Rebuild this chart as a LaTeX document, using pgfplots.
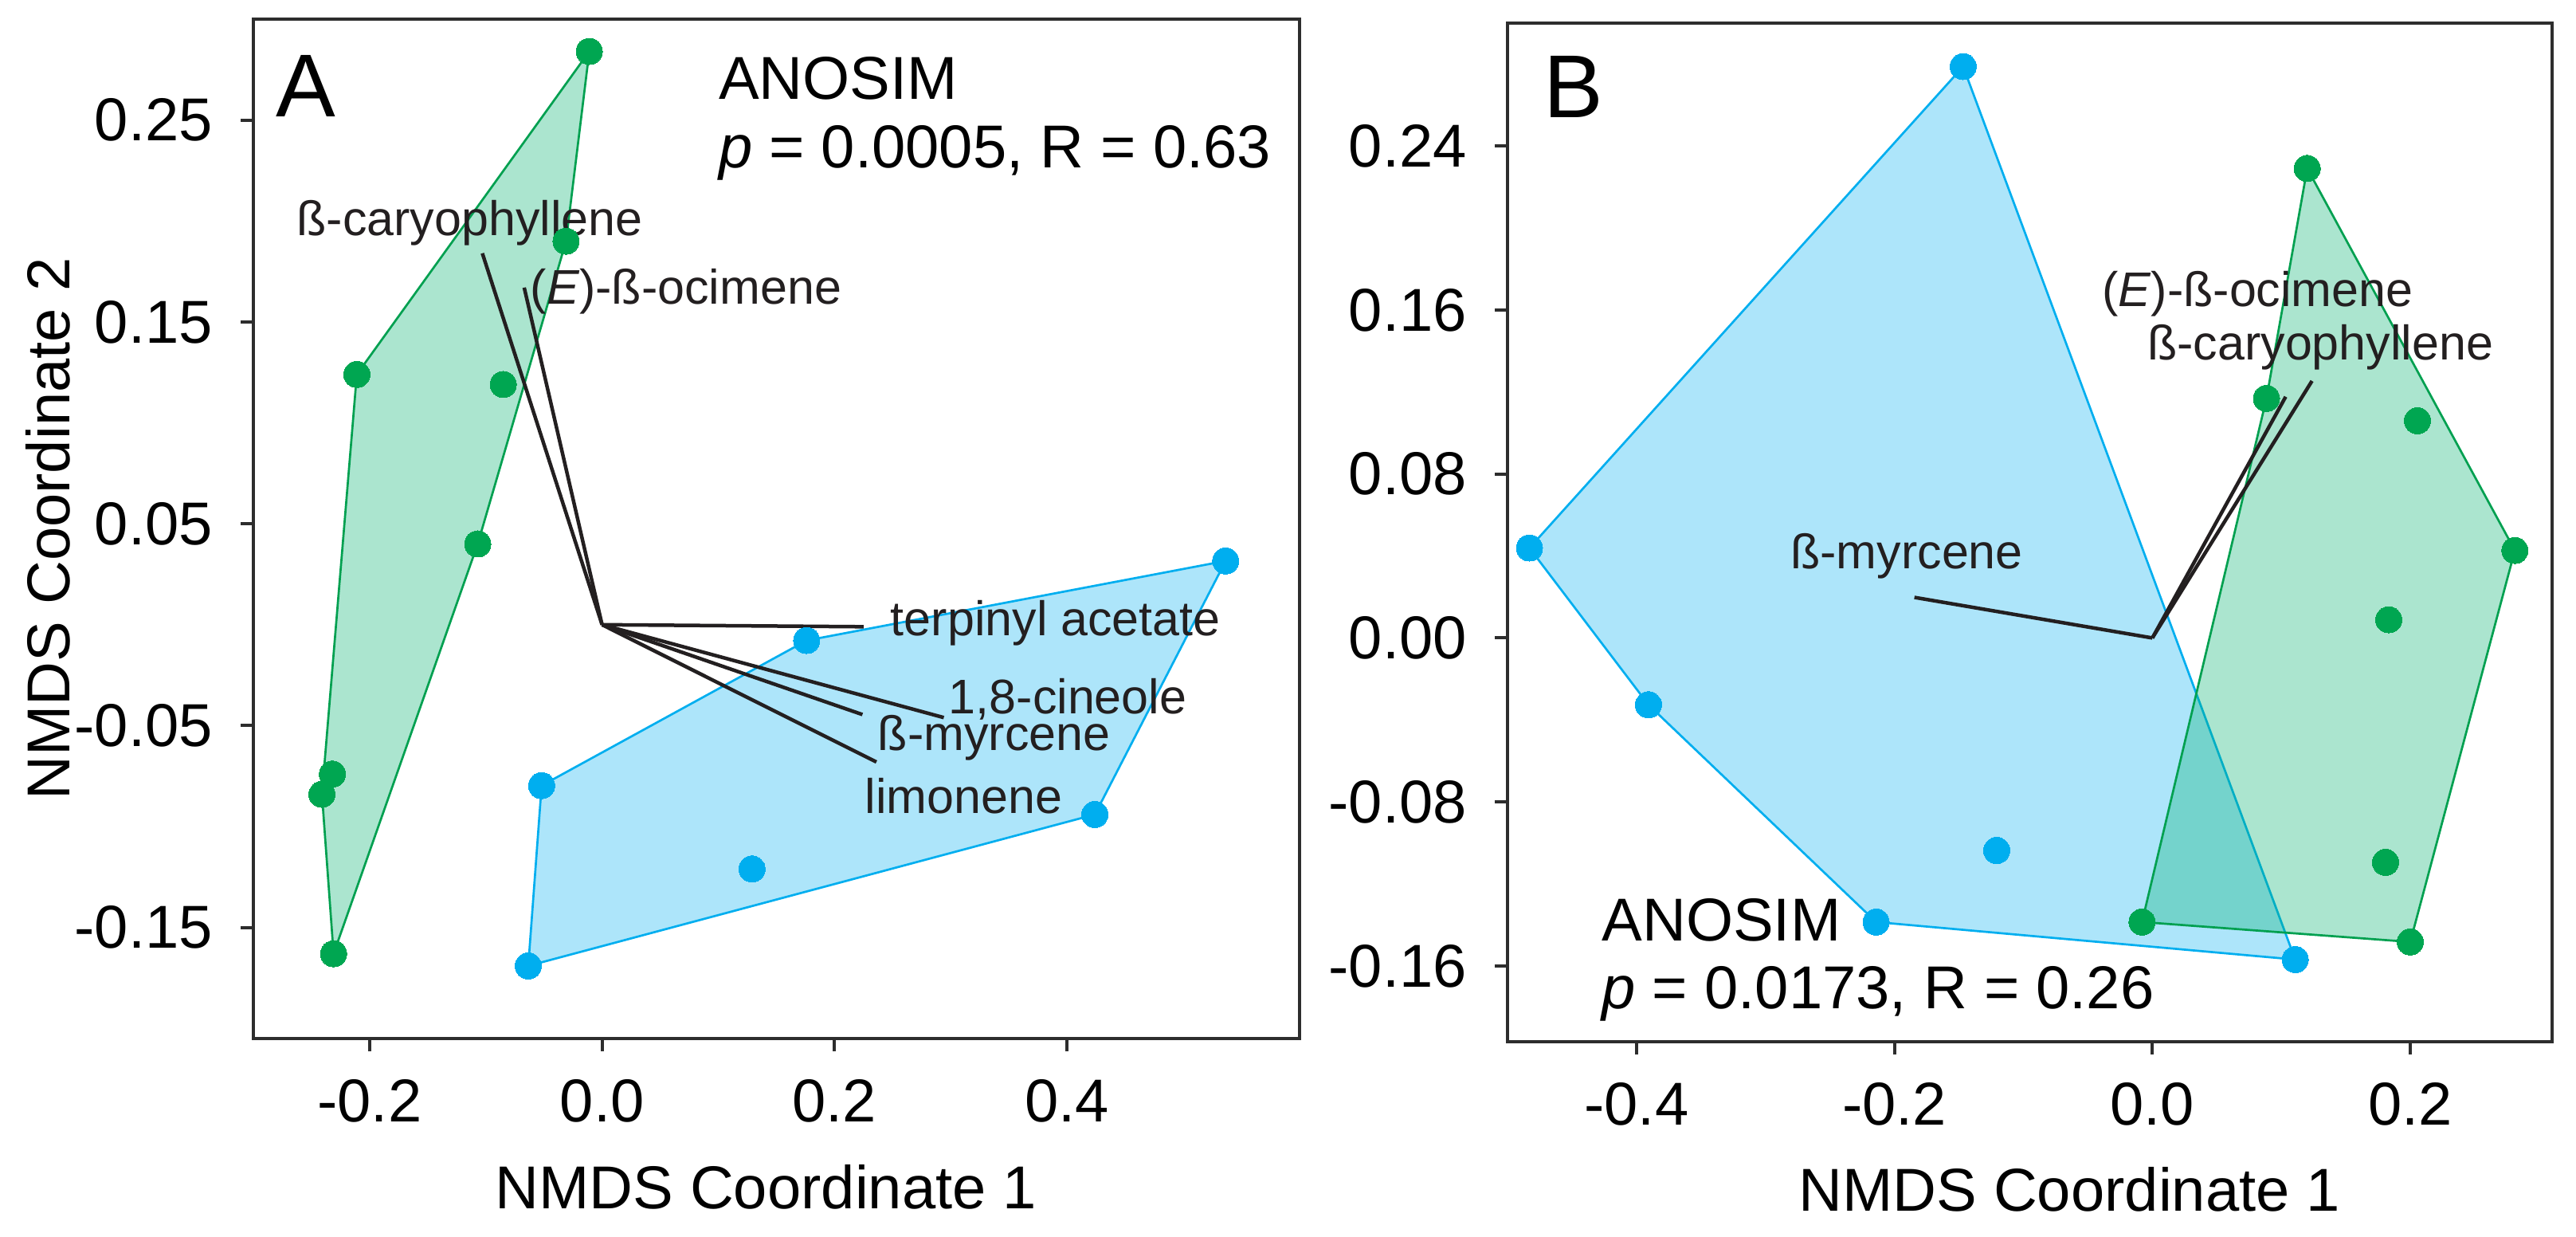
\documentclass[border=0pt]{standalone}
\usepackage{fontspec}
\setmainfont{Liberation Sans}
\usepackage{pgfplots}
\pgfplotsset{compat=1.18}
\definecolor{gpt}{RGB}{0,166,81}
\definecolor{gline}{RGB}{0,160,80}
\definecolor{gfill}{RGB}{0,176,110}
\definecolor{bpt}{RGB}{0,174,239}
\definecolor{txt}{RGB}{35,31,32}
\definecolor{axc}{RGB}{45,45,45}
\pgfplotsset{
  myax/.style={
    scale only axis, clip=false,
    axis line style={draw=axc, line width=0.4pt},
    tick pos=left, tick align=outside, major tick length=1.6pt,
    tick style={draw=axc, line width=0.4pt},
    ticklabel style={font=\fontsize{7.6}{9}\selectfont, text=black},
    label style={font=\fontsize{7.6}{9}\selectfont, text=black},
  },
  hullB/.style={draw=bpt, line width=0.27pt, fill=bpt, fill opacity=0.32, line join=round},
  hullG/.style={draw=gline, line width=0.27pt, fill=gfill, fill opacity=0.33, line join=round},
  ptB/.style={only marks, mark=*, mark size=1.65pt, color=bpt, mark options={line width=0pt}},
  ptG/.style={only marks, mark=*, mark size=1.65pt, color=gpt, mark options={line width=0pt}},
  vec/.style={no marks, color=txt, line width=0.45pt},
}
\tikzset{
  vlab/.style={anchor=west, text=txt, font=\fontsize{6.1}{7}\selectfont, inner sep=0pt},
  anlab/.style={anchor=west, text=black, font=\fontsize{7.6}{9}\selectfont, inner sep=0pt},
  panlab/.style={anchor=center, text=black, font=\fontsize{11.2}{13}\selectfont, inner sep=0pt},
}
\begin{document}
\begin{tikzpicture}
\path[use as bounding box] (0,0) rectangle (323.3pt,155.1pt);
% ---------------- Panel A ----------------
\begin{axis}[myax,
  at={(31.8pt,24.8pt)}, anchor=south west,
  width=131.3pt, height=127.9pt,
  xmin=-0.30, xmax=0.60, ymin=-0.205, ymax=0.30,
  xtick={-0.2,0,0.2,0.4}, xticklabels={-0.2,0.0,0.2,0.4},
  ytick={-0.15,-0.05,0.05,0.15,0.25}, yticklabels={-0.15,-0.05,0.05,0.15,0.25},
  xlabel={NMDS Coordinate 1}, ylabel={NMDS Coordinate 2},
  xlabel style={at={(axis description cs:0.49,-0.1454)}, anchor=center},
  ylabel style={at={(axis description cs:-0.1965,0.5)}, anchor=center},
]
% green hull
\addplot[hullG] coordinates {(-0.011,0.284) (-0.031,0.190) (-0.107,0.040) (-0.231,-0.163) (-0.241,-0.084) (-0.211,0.124) (-0.011,0.284)};
% blue hull
\addplot[hullB] coordinates {(-0.0635,-0.169) (-0.052,-0.0797) (0.176,-0.0078) (0.5365,0.0316) (0.424,-0.094) (-0.0635,-0.169)};
% vectors
\addplot[vec] coordinates {(0,0) (-0.103,0.184)};
\addplot[vec] coordinates {(0,0) (-0.067,0.167)};
\addplot[vec] coordinates {(0,0) (0.225,-0.001)};
\addplot[vec] coordinates {(0,0) (0.294,-0.046)};
\addplot[vec] coordinates {(0,0) (0.224,-0.0445)};
\addplot[vec] coordinates {(0,0) (0.236,-0.068)};
% points
\addplot[ptG] coordinates {(-0.011,0.284) (-0.031,0.190) (-0.211,0.124) (-0.085,0.119) (-0.107,0.040) (-0.232,-0.074) (-0.241,-0.084) (-0.231,-0.163)};
\addplot[ptB] coordinates {(0.5365,0.0316) (0.176,-0.0078) (-0.052,-0.0797) (0.129,-0.121) (0.424,-0.094) (-0.0635,-0.169)};
% labels
\node[panlab] at (axis cs:-0.255,0.267) {A};
\node[anlab] at (axis cs:0.099,0.2705) {ANOSIM};
\node[anlab] at (axis cs:0.099,0.2338) {\textit{p} = 0.0005, R = 0.63};
\node[vlab] at (axis cs:-0.264,0.199) {ß-caryophyllene};
\node[vlab] at (axis cs:-0.063,0.165) {(\textit{E})-ß-ocimene};
\node[vlab] at (axis cs:0.247,0.001) {terpinyl acetate};
\node[vlab] at (axis cs:0.297,-0.0368) {1,8-cineole};
\node[vlab] at (axis cs:0.236,-0.056) {ß-myrcene};
\node[vlab] at (axis cs:0.225,-0.085) {limonene};
\end{axis}
% ---------------- Panel B ----------------
\begin{axis}[myax,
  at={(189.2pt,24.4pt)}, anchor=south west,
  width=131.1pt, height=127.8pt,
  xmin=-0.50, xmax=0.31, ymin=-0.197, ymax=0.30,
  xtick={-0.4,-0.2,0,0.2}, xticklabels={-0.4,-0.2,0.0,0.2},
  ytick={-0.16,-0.08,0,0.08,0.16,0.24}, yticklabels={-0.16,-0.08,0.00,0.08,0.16,0.24},
  xlabel={NMDS Coordinate 1},
  xlabel style={at={(axis description cs:0.538,-0.1454)}, anchor=center},
]
% blue hull
\addplot[hullB] coordinates {(-0.1467,0.2788) (0.1108,-0.1569) (-0.2142,-0.1386) (-0.3907,-0.0326) (-0.483,0.0439) (-0.1467,0.2788)};
% green hull
\addplot[hullG] coordinates {(0.1201,0.2291) (0.2811,0.0427) (0.200,-0.1483) (-0.008,-0.1386) (0.0885,0.1169) (0.1201,0.2291)};
% vectors
\addplot[vec] coordinates {(0,0) (-0.1845,0.0198)};
\addplot[vec] coordinates {(0,0) (0.1034,0.1177)};
\addplot[vec] coordinates {(0,0) (0.1238,0.1254)};
% points
\addplot[ptB] coordinates {(-0.1467,0.2788) (-0.483,0.0439) (-0.3907,-0.0326) (-0.1207,-0.1037) (-0.2142,-0.1386) (0.1108,-0.1569)};
\addplot[ptG] coordinates {(0.1201,0.2291) (0.0885,0.1169) (0.2056,0.106) (0.2811,0.0427) (0.1833,0.0089) (0.1808,-0.1095) (-0.008,-0.1386) (0.200,-0.1483)};
% labels
\node[panlab] at (axis cs:-0.449,0.269) {B};
\node[vlab] at (axis cs:-0.0402,0.168) {(\textit{E})-ß-ocimene};
\node[vlab] at (axis cs:-0.005,0.142) {ß-caryophyllene};
\node[vlab] at (axis cs:-0.2817,0.040) {ß-myrcene};
\node[anlab] at (axis cs:-0.428,-0.1375) {ANOSIM};
\node[anlab] at (axis cs:-0.428,-0.1736) {\textit{p} = 0.0173, R = 0.26};
\end{axis}
\end{tikzpicture}
\end{document}
